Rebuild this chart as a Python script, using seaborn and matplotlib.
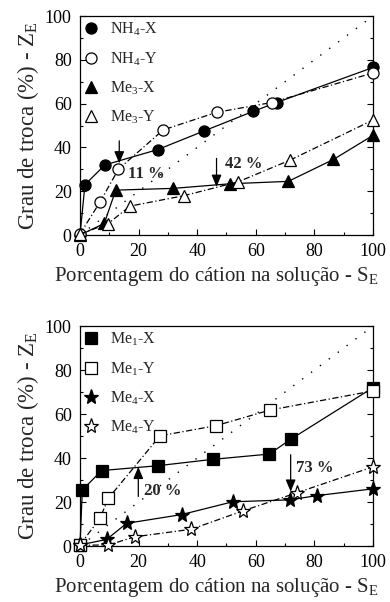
import matplotlib
matplotlib.use("Agg")
import matplotlib.pyplot as plt
import seaborn as sns
import pandas as pd
from matplotlib.ticker import MultipleLocator

sns.set_theme(style="ticks")
plt.rcParams['font.family'] = ['Liberation Serif', 'DejaVu Serif']
plt.rcParams['mathtext.fontset'] = 'custom'
plt.rcParams['mathtext.rm'] = 'Liberation Serif'
plt.rcParams['mathtext.it'] = 'Liberation Serif:italic'
plt.rcParams['mathtext.bf'] = 'Liberation Serif:bold'

# ---- top panel data ----
x_nh4x = [0, 1.7, 8.5, 26.5, 42.3, 59.2, 67.1, 100]
y_nh4x = [0, 23, 32, 39, 47.5, 56.5, 60.5, 76.5]
x_nh4y = [0, 6.8, 13.1, 28.4, 46.6, 65.4, 100]
y_nh4y = [0.5, 15, 30, 48, 56, 60.5, 74]
x_me3x = [0, 8.3, 12.2, 31.9, 51.2, 71.1, 86.5, 100]
y_me3x = [0, 5.3, 20.5, 21.3, 23.4, 24.5, 34.5, 45.5]
x_me3y = [0, 9.4, 17.1, 35.6, 54, 71.7, 100]
y_me3y = [0.5, 5, 13.2, 18, 24.3, 34.2, 52.5]

# ---- bottom panel data ----
x_me1x = [0, 0.8, 7.4, 26.5, 45.3, 64.6, 72, 100]
y_me1x = [0.5, 25.5, 34.3, 36.5, 39.4, 41.8, 48.6, 72]
x_me1y = [0, 6.8, 9.7, 27.3, 46.4, 64.8, 100]
y_me1y = [0.5, 12.6, 21.7, 50.1, 54.7, 61.8, 70.5]
x_me4x = [0, 9.1, 15.9, 34.7, 52.1, 71.7, 80.8, 100]
y_me4x = [0.5, 3, 10.3, 14.3, 20.1, 21, 22.9, 26]
x_me4y = [0, 9.7, 18.8, 37.9, 55.7, 74, 100]
y_me4y = [0.3, 0.5, 4.2, 7.6, 16, 24.2, 36]

diag = [0, 100]

xlabel = r"Porcentagem do cátion na solução - S$_{\mathrm{E}}$"
ylabel = r"Grau de troca (%) - Z$_{\mathrm{E}}$"

fig = plt.figure(figsize=(3.9, 6.02), dpi=100)
ax1 = fig.add_axes([0.2051, 0.6096, 0.7513, 0.3638])
ax2 = fig.add_axes([0.2051, 0.0930, 0.7513, 0.3654])


def series(ax, x, y, marker, filled, ls, label, ms=8):
    df = pd.DataFrame({"x": x, "y": y})
    sns.lineplot(data=df, x="x", y="y", ax=ax, sort=False, color="black",
                 lw=0.9, linestyle=ls, marker=marker, markersize=ms,
                 markerfacecolor="black" if filled else "white",
                 markeredgecolor="black", markeredgewidth=0.9,
                 label=label, clip_on=False, zorder=3)


def style(ax):
    ax.plot(diag, diag, color="black", lw=1.0, linestyle=(0, (1, 7)), zorder=1)
    ax.set_xlim(0, 100)
    ax.set_ylim(0, 100)
    ax.xaxis.set_major_locator(MultipleLocator(20))
    ax.yaxis.set_major_locator(MultipleLocator(20))
    ax.xaxis.set_minor_locator(MultipleLocator(10))
    ax.yaxis.set_minor_locator(MultipleLocator(10))
    ax.tick_params(which="both", direction="in", right=True, top=False,
                   colors="black", labelsize=13, width=0.8, pad=6)
    ax.tick_params(which="major", length=4)
    ax.tick_params(which="minor", length=2.5)
    for s in ax.spines.values():
        s.set_color("black")
        s.set_linewidth(0.9)
    ax.set_xlabel(xlabel, fontsize=15)
    ax.xaxis.set_label_coords(0.465, -0.135, transform=ax.transAxes)
    ax.xaxis.label.set_va("top")
    ax.set_ylabel(ylabel, fontsize=16.5, labelpad=3)
    leg = ax.legend(loc="upper left", frameon=False, fontsize=11.5,
                    handlelength=0.8, handletextpad=0.8, labelspacing=0.75,
                    borderaxespad=0.1, borderpad=0.2)
    for h in leg.legend_handles:
        h.set_linestyle("none")


series(ax1, x_nh4x, y_nh4x, "o", True, "-", r"NH$_{4}$-X")
series(ax1, x_nh4y, y_nh4y, "o", False, (0, (5, 2, 1, 2)), r"NH$_{4}$-Y")
series(ax1, x_me3x, y_me3x, "^", True, "-", r"Me$_{3}$-X")
series(ax1, x_me3y, y_me3y, "^", False, (0, (5, 2, 1, 2)), r"Me$_{3}$-Y")
style(ax1)

series(ax2, x_me1x, y_me1x, "s", True, "-", r"Me$_{1}$-X")
series(ax2, x_me1y, y_me1y, "s", False, (0, (5, 2, 1, 2)), r"Me$_{1}$-Y")
series(ax2, x_me4x, y_me4x, "*", True, "-", r"Me$_{4}$-X", ms=11)
series(ax2, x_me4y, y_me4y, "*", False, (0, (5, 2, 1, 2)), r"Me$_{4}$-Y", ms=11)
style(ax2)

arrow = dict(arrowstyle="-|>,head_length=0.6,head_width=0.25", color="black",
             lw=0.9, shrinkA=0, shrinkB=0)
ax1.annotate("", xy=(13.4, 32.7), xytext=(13.4, 43), arrowprops=arrow, zorder=4)
ax1.text(16.5, 28, "11 %", fontsize=12, fontweight="bold", va="center", ha="left", zorder=5)
ax1.annotate("", xy=(46.6, 22), xytext=(46.6, 35), arrowprops=arrow, zorder=4)
ax1.text(49.5, 32.4, "42 %", fontsize=12, fontweight="bold", va="center", ha="left", zorder=5)

ax2.annotate("", xy=(19.9, 36), xytext=(19.9, 22.5), arrowprops=arrow, zorder=4)
ax2.text(21.8, 25, "20 %", fontsize=12, fontweight="bold", va="center", ha="left", zorder=5)
ax2.annotate("", xy=(71.9, 24.7), xytext=(71.9, 41.5), arrowprops=arrow, zorder=4)
ax2.text(73.7, 35.3, "73 %", fontsize=12, fontweight="bold", va="center", ha="left", zorder=5)

fig.savefig("out.png", dpi=100)
